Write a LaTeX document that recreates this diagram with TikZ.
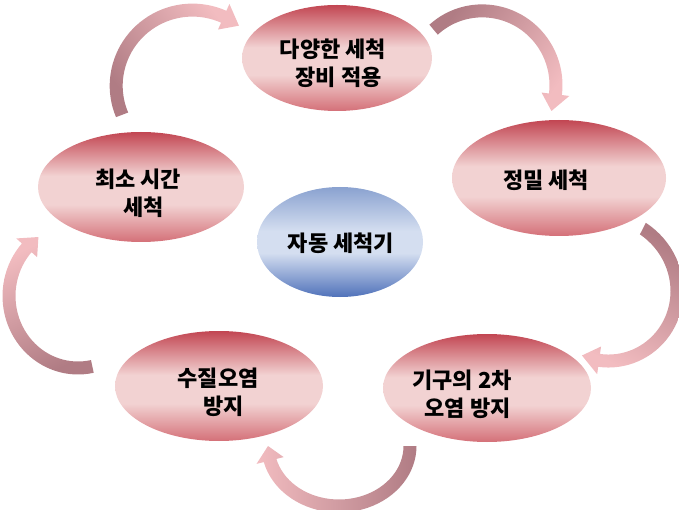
\documentclass[tikz,border=0pt]{standalone}
\usepackage{fontspec}
\newfontfamily\kfont{Noto Sans CJK KR}
\usetikzlibrary{shapes.geometric,calc}

\definecolor{ellred}{RGB}{194,70,82}
\definecolor{ellrose}{RGB}{212,112,120}
\definecolor{ellpale}{RGB}{242,210,210}
\definecolor{ellblue}{RGB}{80,114,186}
\definecolor{ellsky}{RGB}{138,162,208}
\definecolor{ellwhite}{RGB}{212,222,240}
\definecolor{arrowdark}{RGB}{176,124,132}
\definecolor{arrowlight}{RGB}{242,188,192}

\pgfdeclareverticalshading{redegg}{100bp}{color(0bp)=(ellrose); color(25bp)=(ellrose);
  color(42bp)=(ellpale); color(55bp)=(ellpale); color(75bp)=(ellred); color(100bp)=(ellred)}
\pgfdeclareverticalshading{blueegg}{100bp}{color(0bp)=(ellblue); color(25bp)=(ellblue);
  color(45bp)=(ellwhite); color(55bp)=(ellwhite); color(75bp)=(ellsky); color(100bp)=(ellsky)}

\def\bandw{6.5}
\def\headw{14}

% curved block arrow: centre x, centre y, tail angle, head angle, tip angle,
% x radius, y radius, tail scale, shading angle
\newcommand{\flowarrow}[9]{%
  \shade[top color=arrowlight, bottom color=arrowdark, shading angle=#9,
    declare function={fs(\t)=(\t-(#4))/((#3)-(#4)); fr(\t)=1+(#8-1)*fs(\t)*fs(\t);}]
    plot[domain=#3:#4, samples=40, variable=\t]
      ({#1+(#6*fr(\t)+\bandw)*cos(\t)}, {#2+(#7*fr(\t)+\bandw)*sin(\t)})
    -- ({#1+(#6+\headw)*cos(#4)}, {#2+(#7+\headw)*sin(#4)})
    -- ({#1+#6*cos(#5)}, {#2+#7*sin(#5)})
    -- ({#1+(#6-\headw)*cos(#4)}, {#2+(#7-\headw)*sin(#4)})
    -- plot[domain=#4:#3, samples=40, variable=\t]
      ({#1+(#6*fr(\t)-\bandw)*cos(\t)}, {#2+(#7*fr(\t)-\bandw)*sin(\t)})
    -- cycle;
}

\tikzset{
  egg/.style 2 args={ellipse, inner sep=0pt, minimum width=#1, minimum height=#2},
  redegg/.style={shade, shading=redegg},
  blueegg/.style={shade, shading=blueegg},
  ktext/.style={align=center, font=\kfont\bfseries\fontsize{22}{28}\selectfont}
}

\begin{document}
\begin{tikzpicture}[x=1pt, y=1pt]
\useasboundingbox (0,0) rectangle (679,509);

% arrows round the cycle
\flowarrow{192}{421}{201}{66}{53}{78}{78}{0.96}{-53}
\flowarrow{480}{424}{130}{-7}{-20}{76}{76}{0.95}{-125}
\flowarrow{608}{212}{63}{-98}{-114}{64}{64}{1.2}{154}
\flowarrow{339}{63}{0}{-166}{-180}{71}{60}{1}{90}
\flowarrow{78}{213}{282}{138}{125}{69}{72}{1}{24}

% ellipses
\node[egg={190pt}{106pt}, redegg] (equip) at (337,451) {};
\node[egg={214pt}{116pt}, redegg] (precise) at (559,331) {};
\node[egg={206pt}{110pt}, redegg] (mintime) at (141,322) {};
\node[egg={166pt}{110pt}, blueegg] (washer) at (340,267) {};
\node[egg={208pt}{110pt}, redegg] (water) at (219,123) {};
\node[egg={208pt}{108pt}, redegg] (second) at (487,121) {};

% labels
\node[ktext] (equiptxt) at ($(equip)+(-4,-5)$) {다양한 세척\\\hspace*{.5em}장비 적용};
\node[ktext] (precisetxt) at ($(precise)+(-13,-2)$) {정밀 세척};
\node[ktext] (mintimetxt) at ($(mintime)+(-3,-6)$) {최소 시간\\\hspace*{.5em}세척};
\node[ktext] (washertxt) at ($(washer)+(1,-1)$) {자동 세척기};
\node[ktext] (watertxt) at ($(water)+(-1,-6)$) {수질오염\\\hspace*{.5em}방지};
\node[ktext] (secondtxt) at ($(second)+(-25,-6)$) {기구의 2차\\\hspace*{.5em}오염 방지};
\end{tikzpicture}
\end{document}
